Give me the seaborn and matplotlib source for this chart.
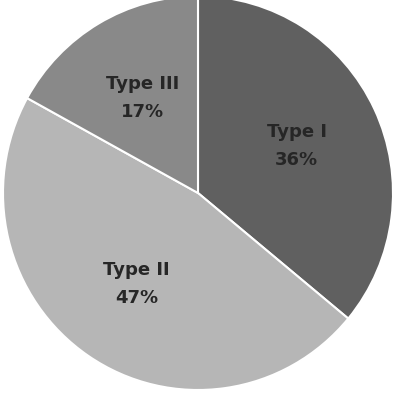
import matplotlib
matplotlib.use("Agg")
import matplotlib.pyplot as plt
import seaborn as sns

categories = ["Type I", "Type II", "Type III"]
values = [36, 47, 17]
colors = ["#606060", "#b6b6b6", "#898989"]

sns.set_theme(style="white")
plt.rcParams['font.family'] = ['DejaVu Sans']

fig = plt.figure(figsize=(3.94, 3.93), dpi=100)
ax = fig.add_axes([0, 0, 1, 1])
labels = [f"{c}\n{v}%" for c, v in zip(categories, values)]
wedges, texts = ax.pie(values, colors=colors, startangle=90, counterclock=False,
                       labels=labels, labeldistance=0.56,
                       wedgeprops=dict(edgecolor="white", linewidth=1.5),
                       textprops=dict(fontsize=13, fontweight="bold",
                                      family="DejaVu Sans", color="#262626",
                                      ha="center", va="center", linespacing=1.75))
for t in texts:
    t.set_horizontalalignment("center")
ax.set_aspect("auto")
ax.set_xlim(-198 / 195, 196 / 195)
ax.set_ylim(-200 / 197, 193 / 197)
ax.axis("off")
fig.savefig("out.png", dpi=100, facecolor="white")
